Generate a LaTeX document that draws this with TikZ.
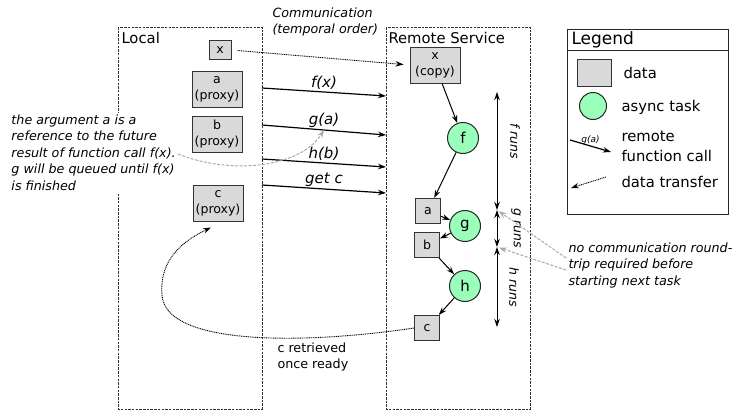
\documentclass[tikz,border=0pt]{standalone}
\usepackage{fontspec}
\setmainfont{DejaVu Sans}
\usetikzlibrary{arrows.meta}
\definecolor{datagray}{HTML}{D9D9D9}
\definecolor{taskgreen}{HTML}{99FFBB}
\definecolor{hintgray}{HTML}{AAAAAA}

\begin{document}
\begin{tikzpicture}[x=1pt,y=-1pt,>={Stealth[length=8pt,width=5.5pt]},line width=1pt]
  \tikzstyle{lane}=[draw=black!80, line width=0.9pt, dash pattern=on 2.5pt off 1.2pt]
  \tikzstyle{lanetitle}=[anchor=base west, inner sep=0pt, font=\fontsize{14.8}{17}\selectfont]
  \tikzstyle{data}=[draw=black!80, fill=datagray, minimum width=50pt, minimum height=36pt,
    inner sep=1pt, align=center, font=\fontsize{12.5}{16}\selectfont]
  \tikzstyle{item}=[data, minimum width=25pt, minimum height=25pt]
  \tikzstyle{task}=[circle, draw=black!85, fill=taskgreen, minimum size=31pt, inner sep=0pt,
    font=\fontsize{15}{17}\selectfont]
  \tikzstyle{call}=[->, line width=1.2pt]
  \tikzstyle{callname}=[above, inner sep=2pt, font=\fontsize{15}{17}\itshape]
  \tikzstyle{transfer}=[line width=0.9pt, dash pattern=on 1pt off 0.8pt]
  \tikzstyle{hint}=[->, hintgray, line width=1pt, dash pattern=on 3pt off 1.5pt]
  \tikzstyle{note}=[anchor=north west, align=left, inner sep=2pt, font=\fontsize{12.7}{16.5}\itshape]
  \tikzstyle{runs}=[rotate=-90, inner sep=0pt, font=\fontsize{12.5}{15}\itshape]
  \tikzstyle{legtext}=[anchor=west, align=left, inner sep=0pt, font=\fontsize{14.8}{20}\selectfont]

  \useasboundingbox (0,0) rectangle (734,410);

  % swim lanes
  \draw[lane] (118,27) rectangle (262,409);
  \draw[lane] (386,27) rectangle (530,409);
  \node[lanetitle] (loc) at (121,43) {Local};
  \node[lanetitle] (rem) at (388,43) {Remote Service};
  \node[note] (comm) at (270,5) {Communication\\(temporal order)};

  % local side
  \node[data, minimum width=22pt, minimum height=19pt] (lx) at (220,50) {x};
  \node[data] (la) at (217,89) {a\\(proxy)};
  \node[data] (lb) at (217,134) {b\\(proxy)};
  \node[data] (lc) at (218,203) {c\\(proxy)};

  % remote side
  \node[data] (rx) at (435,65) {x\\(copy)};
  \node[task] (f) at (463,138) {f};
  \node[item] (ra) at (428,211) {a};
  \node[task] (g) at (465,226) {g};
  \node[item] (rb) at (427,245) {b};
  \node[task] (h) at (465,286) {h};
  \node[item] (rc) at (427,328) {c};

  \draw[->] (rx) -- (f);
  \draw[->] (f) -- (ra);
  \draw[->] (ra) -- (g);
  \draw[->] (g) -- (rb);
  \draw[->] (rb) -- (h);
  \draw[->] (h) -- (rc);

  % calls across
  \coordinate (fx1) at (262,88);  \coordinate (fx2) at (386,96);
  \coordinate (ga1) at (262,125); \coordinate (ga2) at (386,135);
  \coordinate (hb1) at (262,159); \coordinate (hb2) at (386,167);
  \coordinate (gc1) at (262,185); \coordinate (gc2) at (386,193);
  \draw[call] (fx1) -- node[callname] (fxn) {f(x)} (fx2);
  \draw[call] (ga1) -- node[callname] (gan) {g(a)} (ga2);
  \draw[call] (hb1) -- node[callname] (hbn) {h(b)} (hb2);
  \draw[call] (gc1) -- node[callname] (gcn) {get c} (gc2);

  \draw[transfer, ->, shorten <=6pt, shorten >=6pt] (lx.east) -- (rx.west);

  % run times
  \coordinate (ft) at (497,92);
  \coordinate (fb) at (497,210);
  \coordinate (gb) at (497,247);
  \coordinate (hb) at (497,327);
  \draw[<->] (ft) -- (fb);
  \draw[<->] (fb) -- (gb);
  \draw[<->] (gb) -- (hb);
  \node[runs] (frun) at (515,141) {f runs};
  \node[runs] (grun) at (516,228) {g runs};
  \node[runs] (hrun) at (514,287) {h runs};

  % notes
  \node[note, fill=white] (argnote) at (9,112) {the argument a is a\\reference to the future\\result of function call f(x).\\g will be queued until f(x)\\is finished};
  \coordinate (argend) at (178,154);
  \draw[hint] (argend) .. controls (230,175) and (300,168) .. (gan.south);

  \node[note] (hintnote) at (566,240) {no communication round-\\trip required before\\starting next task};
  \coordinate (hn1) at (566,258);
  \coordinate (hn2) at (566,270);
  \draw[hint, shorten >=2pt] (hn1) -- (fb);
  \draw[hint, shorten >=2pt] (hn2) -- (gb);

  % c comes back
  \draw[transfer, ->] (rc.west) .. controls (300,345) and (165,345) .. (162,295)
    .. controls (159,258) and (185,240) .. ([xshift=-7pt,yshift=-6pt]lc.south);
  \node[note, font=\fontsize{12.7}{16.5}\selectfont] (cret) at (275,340) {c retrieved\\once ready};

  % legend
  \draw[draw=black!85] (567,29) rectangle (728,214);
  \draw[draw=black!85] (567,50) -- (728,50);
  \node[anchor=west, inner sep=0pt, font=\fontsize{17}{19}\selectfont] (legt) at (571,40) {Legend};
  \node[data, minimum width=34pt, minimum height=27pt] (kdata) at (594,73) {};
  \node[legtext] (kdatat) at (623,73) {data};
  \node[task, minimum size=27pt] (ktask) at (593,106) {};
  \node[legtext] (ktaskt) at (621,107) {async task};
  \coordinate (kc1) at (570,140);
  \coordinate (kc2) at (611,152);
  \draw[call] (kc1) -- node[above, inner sep=1pt, font=\fontsize{9}{10}\itshape] (kga) {g(a)} (kc2);
  \node[legtext] (kcallt) at (621,146) {remote\\function call};
  \coordinate (kt1) at (606,177);
  \coordinate (kt2) at (571,188);
  \draw[transfer, ->] (kt1) -- (kt2);
  \node[legtext] (ktranst) at (621,182) {data transfer};
\end{tikzpicture}
\end{document}
